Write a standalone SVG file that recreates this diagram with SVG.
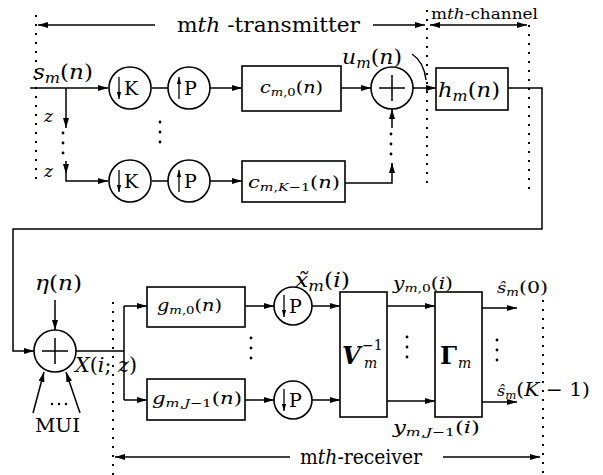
<svg xmlns="http://www.w3.org/2000/svg" width="603" height="475" viewBox="0 0 603 475" font-family="DejaVu Serif">
<defs>
<marker id="ah" viewBox="0 0 10 6" refX="10" refY="3" markerWidth="10" markerHeight="6" markerUnits="userSpaceOnUse" orient="auto-start-reverse"><path d="M0,0 L10,3 L0,6 z" fill="#000"/></marker>
<marker id="as" viewBox="0 0 8 5" refX="8" refY="2.5" markerWidth="7" markerHeight="5" markerUnits="userSpaceOnUse" orient="auto"><path d="M0,0 L8,2.5 L0,5 z" fill="#000"/></marker>
</defs>
<style>
.ln{fill:none;stroke:#000;stroke-width:1.5}
.ar{fill:none;stroke:#000;stroke-width:1.5;marker-end:url(#ah)}
.sa{fill:none;stroke:#000;stroke-width:1.3;marker-end:url(#as)}
.bx{fill:#fff;stroke:#000;stroke-width:1.6}
.dt{fill:none;stroke:#000;stroke-width:2;stroke-dasharray:2 7}
.pt{fill:#000}
.it{font-style:italic}
</style>
<rect width="603" height="475" fill="#fff"/>

<g id="range-lines">
<path class="dt" d="M36,15 V186"/>
<path class="dt" d="M427,10 V189"/>
<path class="dt" d="M529,25 V189"/>
<path class="dt" d="M113,302 V475"/>
<path class="dt" d="M543,300 V475"/>
<path class="ar" d="M155,25 H38"/>
<path class="ar" d="M373,25 H425"/>
<path class="ar" style="marker-start:url(#ah)" d="M430,25 H527"/>
<path class="ar" d="M290,457 H115"/>
<path class="ar" d="M443,457 H540"/>
<text x="177" y="32" font-size="20" textLength="183" lengthAdjust="spacingAndGlyphs">m<tspan class="it">th</tspan> -transmitter</text>
<text x="431" y="19" font-size="14" textLength="107" lengthAdjust="spacingAndGlyphs">m<tspan class="it">th</tspan>-channel</text>
<text x="300" y="464" font-size="20" textLength="122" lengthAdjust="spacingAndGlyphs">m<tspan class="it">th</tspan>-receiver</text>
</g>

<g id="connectors">
<path class="ar" d="M30,88 H108"/>
<path class="ar" d="M66,88 V128"/>
<circle class="pt" cx="63" cy="133" r="1.4"/><circle class="pt" cx="63" cy="143" r="1.4"/><circle class="pt" cx="63" cy="153" r="1.4"/>
<path class="ar" d="M66,161 V174"/>
<path class="ar" d="M66,174 V181 H108"/>
<path class="ln" d="M152,88 H168 M152,181 H168"/>
<path class="ar" d="M210,88 H242"/>
<path class="ar" d="M210,181 H242"/>
<circle class="pt" cx="160" cy="122" r="1.4"/><circle class="pt" cx="160" cy="132" r="1.4"/><circle class="pt" cx="160" cy="142" r="1.4"/>
<path class="ar" d="M341,88 H371"/>
<path class="ar" d="M345,183 H392 V163"/>
<circle class="pt" cx="391" cy="134" r="1.4"/><circle class="pt" cx="391" cy="144" r="1.4"/><circle class="pt" cx="391" cy="154" r="1.4"/>
<path class="ar" d="M392,128 V109"/>
<path class="ar" d="M413,88 H436"/>
<path class="ln" d="M412,54 Q424,62 426,80"/>
<path class="ar" d="M508,88 H542 V229 H13 V351 H34"/>
<path class="ar" d="M55,300 V330"/>
<path class="ar" d="M33,413 L44,372"/>
<path class="ar" d="M80,413 L66,372"/>
<path class="ln" d="M76,351 H124 V306 M124,351 V400"/>
<path class="ar" d="M124,306 H147"/>
<path class="ar" d="M124,400 H147"/>
<circle class="pt" cx="251" cy="338" r="1.4"/><circle class="pt" cx="251" cy="348" r="1.4"/><circle class="pt" cx="251" cy="358" r="1.4"/>
<path class="ar" d="M245,306 H274"/>
<path class="ar" d="M245,400 H274"/>
<path class="ar" d="M312,306 H340"/>
<path class="ar" d="M312,400 H340"/>
<path class="ar" d="M387,306 H435"/>
<path class="ar" d="M387,401 H435"/>
<circle class="pt" cx="407" cy="337" r="1.4"/><circle class="pt" cx="407" cy="347" r="1.4"/><circle class="pt" cx="407" cy="357" r="1.4"/>
<path class="ar" d="M482,308 H517"/>
<path class="ar" d="M482,402 H517"/>
<circle class="pt" cx="497" cy="340" r="1.4"/><circle class="pt" cx="497" cy="350" r="1.4"/><circle class="pt" cx="497" cy="360" r="1.4"/>
</g>

<g id="labels">
<text x="33" y="79" font-size="20" textLength="60" lengthAdjust="spacingAndGlyphs"><tspan class="it">s</tspan><tspan class="it" font-size="14" dy="4">m</tspan><tspan dy="-4">(</tspan><tspan class="it">n</tspan>)</text>
<text x="44" y="122" class="it" font-size="17">z</text>
<text x="44" y="177" class="it" font-size="17">z</text>
<text x="342" y="64" font-size="20" textLength="60" lengthAdjust="spacingAndGlyphs"><tspan class="it">u</tspan><tspan class="it" font-size="14" dy="4">m</tspan><tspan dy="-4">(</tspan><tspan class="it">n</tspan>)</text>
<text x="35" y="290" font-size="20" textLength="47" lengthAdjust="spacingAndGlyphs"><tspan class="it">η</tspan>(<tspan class="it">n</tspan>)</text>
<text x="75" y="372" font-size="20" textLength="62" lengthAdjust="spacingAndGlyphs"><tspan class="it">X</tspan>(<tspan class="it">i</tspan>; <tspan class="it">z</tspan>)</text>
<text x="35" y="432" font-size="18" textLength="45" lengthAdjust="spacingAndGlyphs">MUI</text>
<circle class="pt" cx="52" cy="404" r="1.2"/><circle class="pt" cx="59" cy="404" r="1.2"/><circle class="pt" cx="66" cy="404" r="1.2"/>
<text x="295" y="287" font-size="20" textLength="55" lengthAdjust="spacingAndGlyphs"><tspan class="it">x̃</tspan><tspan class="it" font-size="14" dy="4">m</tspan><tspan dy="-4">(</tspan><tspan class="it">i</tspan>)</text>
<text x="393" y="289" font-size="16" textLength="60" lengthAdjust="spacingAndGlyphs"><tspan class="it">y</tspan><tspan class="it" font-size="11" dy="3">m</tspan><tspan font-size="11">,0</tspan><tspan dy="-3">(</tspan><tspan class="it">i</tspan>)</text>
<text x="393" y="433" font-size="16" textLength="87" lengthAdjust="spacingAndGlyphs"><tspan class="it">y</tspan><tspan class="it" font-size="11" dy="3">m</tspan><tspan font-size="11">,</tspan><tspan class="it" font-size="11">J</tspan><tspan font-size="11">−1</tspan><tspan dy="-3">(</tspan><tspan class="it">i</tspan>)</text>
<text x="497" y="293" font-size="17" textLength="51" lengthAdjust="spacingAndGlyphs"><tspan class="it" font-size="15">ŝ</tspan><tspan class="it" font-size="11" dy="3">m</tspan><tspan dy="-3">(0)</tspan></text>
<text x="497" y="396" font-size="19" textLength="93" lengthAdjust="spacingAndGlyphs"><tspan class="it" font-size="15">ŝ</tspan><tspan class="it" font-size="11" dy="3">m</tspan><tspan dy="-3">(</tspan><tspan class="it">K</tspan> − 1)</text>
</g>

<g id="down-K-0">
<circle class="bx" cx="130" cy="88" r="21"/>
<path class="sa" d="M119,77 V99"/>
<text x="124" y="95" font-size="19">K</text>
</g>
<g id="up-P-0">
<circle class="bx" cx="189" cy="88" r="21"/>
<path class="sa" d="M179,99 V77"/>
<text x="184" y="95" font-size="19">P</text>
</g>
<g id="down-K-1">
<circle class="bx" cx="130" cy="181" r="21"/>
<path class="sa" d="M119,170 V192"/>
<text x="124" y="188" font-size="19">K</text>
</g>
<g id="up-P-1">
<circle class="bx" cx="189" cy="181" r="21"/>
<path class="sa" d="M179,192 V170"/>
<text x="184" y="188" font-size="19">P</text>
</g>
<g id="c0">
<rect class="bx" x="242" y="66" width="99" height="45"/>
<text x="260" y="93" font-size="16" textLength="63" lengthAdjust="spacingAndGlyphs"><tspan class="it">c</tspan><tspan class="it" font-size="11" dy="3">m</tspan><tspan font-size="11">,0</tspan><tspan dy="-3">(</tspan><tspan class="it">n</tspan>)</text>
</g>
<g id="cK">
<rect class="bx" x="242" y="161" width="103" height="41"/>
<text x="248" y="188" font-size="16" textLength="92" lengthAdjust="spacingAndGlyphs"><tspan class="it">c</tspan><tspan class="it" font-size="11" dy="3">m</tspan><tspan font-size="11">,</tspan><tspan class="it" font-size="11">K</tspan><tspan font-size="11">−1</tspan><tspan dy="-3">(</tspan><tspan class="it">n</tspan>)</text>
</g>
<g id="sum-tx">
<circle class="bx" cx="392" cy="88" r="21"/>
<path class="ln" d="M379,88 H405 M392,75 V101"/>
</g>
<g id="h">
<rect class="bx" x="436" y="68" width="72" height="42"/>
<text x="438" y="97" font-size="20" textLength="62" lengthAdjust="spacingAndGlyphs"><tspan class="it">h</tspan><tspan class="it" font-size="14" dy="4">m</tspan><tspan dy="-4">(</tspan><tspan class="it">n</tspan>)</text>
</g>
<g id="sum-rx">
<circle class="bx" cx="55" cy="351" r="21"/>
<path class="ln" d="M42,351 H68 M55,338 V364"/>
</g>
<g id="g0">
<rect class="bx" x="147" y="287" width="98" height="40"/>
<text x="157" y="311" font-size="16" textLength="65" lengthAdjust="spacingAndGlyphs"><tspan class="it">g</tspan><tspan class="it" font-size="11" dy="3">m</tspan><tspan font-size="11">,0</tspan><tspan dy="-3">(</tspan><tspan class="it">n</tspan>)</text>
</g>
<g id="gJ">
<rect class="bx" x="147" y="379" width="98" height="41"/>
<text x="152" y="404" font-size="16" textLength="90" lengthAdjust="spacingAndGlyphs"><tspan class="it">g</tspan><tspan class="it" font-size="11" dy="3">m</tspan><tspan font-size="11">,</tspan><tspan class="it" font-size="11">J</tspan><tspan font-size="11">−1</tspan><tspan dy="-3">(</tspan><tspan class="it">n</tspan>)</text>
</g>
<g id="down-P-0">
<circle class="bx" cx="293" cy="306" r="19"/>
<path class="sa" d="M284,295 V317"/>
<text x="289" y="313" font-size="19">P</text>
</g>
<g id="down-P-1">
<circle class="bx" cx="293" cy="400" r="19"/>
<path class="sa" d="M284,389 V411"/>
<text x="289" y="407" font-size="19">P</text>
</g>
<g id="V">
<rect class="bx" x="340" y="292" width="47" height="125"/>
<text x="342" y="364" font-size="24" font-weight="bold" font-style="italic">V</text>
<text x="362" y="350" font-size="14">−1</text>
<text x="364" y="368" font-size="14" font-style="italic">m</text>
</g>
<g id="Gamma">
<rect class="bx" x="435" y="292" width="47" height="125"/>
<text x="440" y="364" font-size="24" font-weight="bold">Γ</text>
<text x="458" y="368" font-size="14" font-style="italic">m</text>
</g>
</svg>
